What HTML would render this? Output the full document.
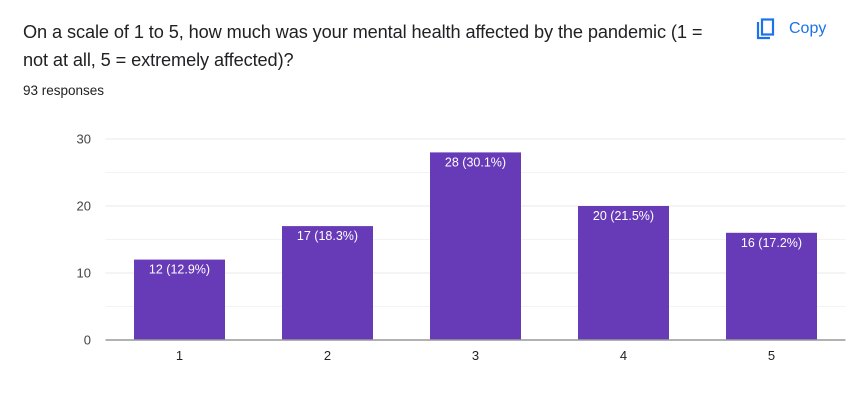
<!DOCTYPE html>
<html><head><meta charset="utf-8"><style>
body{margin:0;width:860px;height:416px;background:#fff;font-family:"Liberation Sans",Arial,sans-serif;overflow:hidden;position:relative}
.title{position:absolute;left:23px;top:18px;width:720px;font-size:18.2px;line-height:28px;color:#202124;white-space:nowrap;letter-spacing:-0.1px}
.resp{position:absolute;left:23px;top:83px;font-size:13.5px;color:#202124}
.copy{position:absolute;left:756px;top:18px;display:flex;align-items:center;color:#1a73e8;font-size:16px}
</style></head><body>
<div class="title">On a scale of 1 to 5, how much was your mental health affected by the pandemic (1 =<br>not at all, 5 = extremely affected)?</div>
<div class="resp">93 responses</div>
<div class="copy"><svg width="20" height="22" viewBox="0 0 20 22"><path d="M2 4v16h12" fill="none" stroke="#1a73e8" stroke-width="2.2"/><rect x="6" y="1.5" width="11" height="15" fill="none" stroke="#1a73e8" stroke-width="2.2"/></svg><span style="margin-left:13px">Copy</span></div>
<svg id="chart" width="860" height="416" style="position:absolute;left:0;top:0"></svg>
<script>
const categories=["1","2","3","4","5"];
const values=[12,17,28,20,16];
const labels=["12 (12.9%)","17 (18.3%)","28 (30.1%)","20 (21.5%)","16 (17.2%)"];
const ticks=[0,10,20,30];
const minorTicks=[5,15,25];
const svg=document.getElementById('chart');
const NS='http://www.w3.org/2000/svg';
const x0=105.5,band=148,bw=91,y0=340,yTop=139,yMax=30;
const y=v=>y0-(y0-yTop)*v/yMax;
const xc=i=>x0+band*i+band/2;
function mk(t,a){const e=document.createElementNS(NS,t);for(const k in a)e.setAttribute(k,a[k]);svg.appendChild(e);return e;}
minorTicks.forEach(t=>{const l=mk('line',{x1:x0,x2:x0+band*5,y1:y(t),y2:y(t),stroke:'#f3f3f3'});

});
ticks.forEach(t=>{if(t>0){const l=mk('line',{x1:x0,x2:x0+band*5,y1:y(t),y2:y(t),stroke:'#e8e8e8'});

}
const tx=mk('text',{x:91,y:y(t)+4.5,'text-anchor':'end','font-size':'13',fill:'#444'});tx.textContent=t;

});
values.forEach((v,i)=>{
const r=mk('rect',{x:xc(i)-bw/2,y:y(v),width:bw,height:y0-y(v),fill:'#673ab7'});


const t=mk('text',{x:xc(i),y:y(v)+14,'text-anchor':'middle','font-size':'12.5',fill:'#fff'});t.textContent=labels[i];


const c=mk('text',{x:xc(i),y:y0+20,'text-anchor':'middle','font-size':'13',fill:'#222'});c.textContent=categories[i];

});
const ax=mk('line',{x1:x0,x2:x0+band*5,y1:y0,y2:y0,stroke:'#999','stroke-width':1.5});


</script>
</body></html>
